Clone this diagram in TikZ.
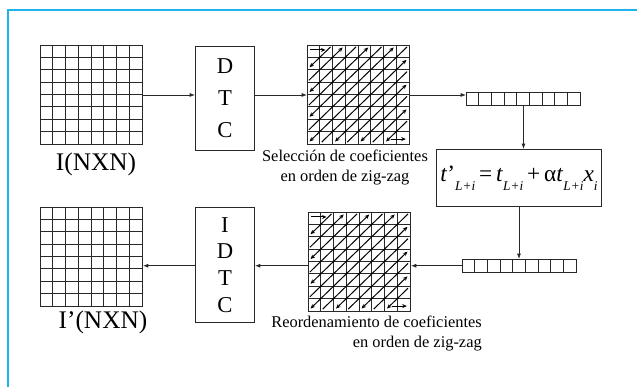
\documentclass[tikz,border=0pt]{standalone}
\usepackage{fontspec}
\setmainfont{Liberation Serif}
\usetikzlibrary{arrows.meta,calc}
\definecolor{framecol}{RGB}{30,180,235}
\definecolor{inkcol}{RGB}{40,40,40}
\tikzset{
  conn/.style={draw=inkcol, line width=0.6pt, -{Latex[length=4pt,width=3pt]}},
  blockbox/.style={draw=inkcol, line width=0.7pt, inner sep=0pt},
  gridline/.style={draw=inkcol, line width=0.6pt},
  zz/.style={draw=black, line width=0.75pt, -{Stealth[length=3.4pt,width=3pt]}},
  bigtxt/.style={font=\fontsize{19}{22}\selectfont, inner sep=0pt},
  lettxt/.style={font=\fontsize{17}{24}\selectfont, align=center, inner sep=0pt},
  captxt/.style={font=\fontsize{12.3}{15}\selectfont, inner sep=0pt},
}
\newcommand\mymesh[4]{% name, x0, y0, zigzag 1/0
  \node[blockbox, anchor=north west, minimum width=76.5pt, minimum height=74.25pt] (#1) at (#2,#3) {};
  \begin{scope}[shift={(#2,#3)}, x=9.5625pt, y=-9.28125pt]
    \foreach \k in {1,...,7} {
      \draw[gridline] (\k,0) -- (\k,8);
      \draw[gridline] (0,\k) -- (8,\k);
    }
    \ifnum#4=1
      \draw[zz] (0.25,0.4) -- (1.45,0.4);
      \foreach \k in {1,...,13} {
        \pgfmathtruncatemacro\ra{max(0,\k-7)}
        \pgfmathtruncatemacro\ca{\k-\ra}
        \pgfmathtruncatemacro\cb{max(0,\k-7)}
        \pgfmathtruncatemacro\rb{\k-\cb}
        \ifodd\k
          \draw[zz] (\ca+0.85,\ra+0.15) -- (\cb+0.2,\rb+0.8);
        \else
          \draw[zz] (\cb+0.15,\rb+0.85) -- (\ca+0.8,\ra+0.2);
        \fi
      }
      \draw[zz] (6.6,7.6) -- (7.75,7.6);
    \fi
  \end{scope}
}
\newcommand\myvec[3]{% name, x0, y0
  \node[blockbox, anchor=north west, minimum width=85.5pt, minimum height=9.4pt] (#1) at (#2,#3) {};
  \begin{scope}[shift={(#2,#3)}, x=9.5pt, y=-9.4pt]
    \foreach \k in {1,...,8} { \draw[gridline] (\k,0) -- (\k,1); }
  \end{scope}
}
\newcommand\sbt[1]{\raisebox{-0.42em}{\fontsize{10}{10}\selectfont\itshape #1}}
\begin{document}
\begin{tikzpicture}[x=0.75pt, y=-0.75pt]
  \useasboundingbox (0,0) rectangle (637,387);
  \draw[framecol, line width=1.6pt] (8,387) -- (8,10) -- (637,10);

  % top row
  \mymesh{ga}{40}{45}{0}
  \node[bigtxt] (la) at (96,164) {I(NXN)};
  \node[blockbox, anchor=north west, minimum width=44.25pt, minimum height=78pt] (dtc) at (195,46) {};
  \node[lettxt] (dtct) at (dtc.center) {D\\T\\C};
  \mymesh{gb}{307}{45}{1}
  \node[captxt, align=center] (lb) at (345,167) {Selección de coeficientes\\en orden de zig-zag};
  \myvec{va}{466}{92}
  \node[blockbox, anchor=north west, minimum width=123.75pt, minimum height=42.75pt] (fb) at (436,149) {};
  \node[inner sep=0pt, anchor=base, font=\fontsize{17.5}{20}\selectfont] (fbt) at (519,181) {\textit{t}’\sbt{L+i}\,=\,\textit{t}\sbt{L+i}\,+\,α\textit{t}\sbt{L+i}\textit{x}\sbt{i}};

  % bottom row
  \myvec{vb}{462}{259}
  \mymesh{gc}{308}{212}{1}
  \node[captxt, align=right, anchor=north east] (lc) at (482,316) {Reordenamiento de coeficientes\\en orden de zig-zag};
  \node[blockbox, anchor=north west, minimum width=44.25pt, minimum height=86.25pt] (idtc) at (195,207) {};
  \node[lettxt, font=\fontsize{17}{20}\selectfont] (idtct) at (idtc.center) {I\\D\\T\\C};
  \mymesh{gd}{40}{207}{0}
  \node[bigtxt] (ld) at (103,322) {I’(NXN)};

  % connectors
  \draw[conn] (ga.east) -- (ga.east -| dtc.west);
  \draw[conn] (dtc.east |- ga.east) -- (gb.west |- ga.east);
  \draw[conn] (gb.east |- ga.east) -- (va.west |- ga.east);
  \draw[conn] (va.south) -- (va.south |- fb.north);
  \draw[conn] (fb.south) -- (fb.south |- vb.north);
  \draw[conn] (vb.west) -- (vb.west -| gc.east);
  \draw[conn] (gc.west |- vb.west) -- (idtc.east |- vb.west);
  \draw[conn] (idtc.west |- vb.west) -- (gd.east |- vb.west);
\end{tikzpicture}
\end{document}
